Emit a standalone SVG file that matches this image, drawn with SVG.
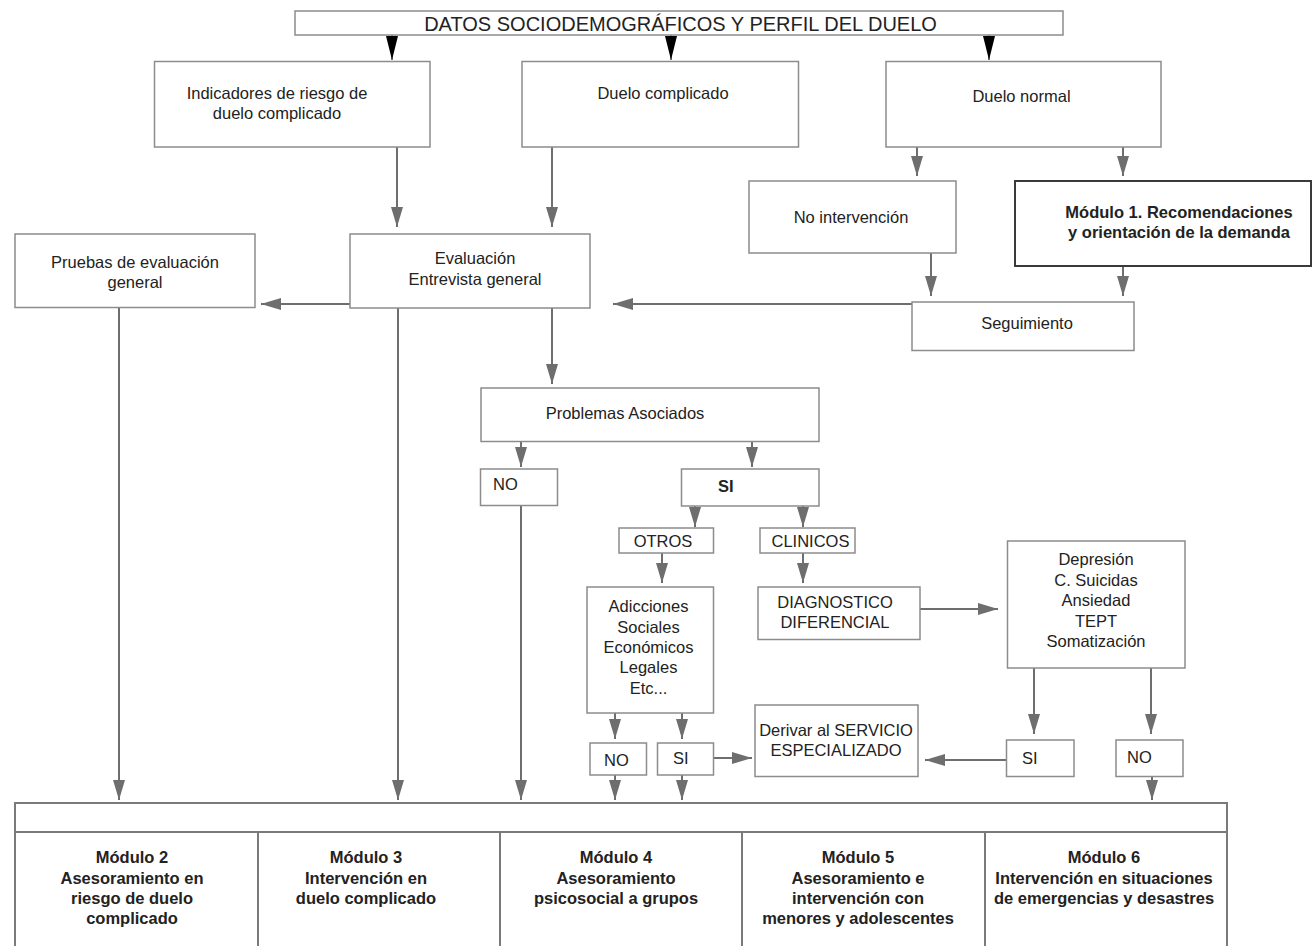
<svg xmlns="http://www.w3.org/2000/svg" width="1313" height="946" viewBox="0 0 1313 946">
<style>
.box{fill:#fff;stroke:#8c8c8c;stroke-width:1.5}
.strong{fill:#fff;stroke:#3a3a3a;stroke-width:2}
.t{font-family:"Liberation Sans",Arial,sans-serif;font-size:16.5px;fill:#222}
.b{font-weight:bold}
.c{text-anchor:middle}
.title{font-size:20px}
.conn line{stroke:#6e6e6e;stroke-width:2;marker-end:url(#ah)}
.conn line.k{stroke:#000;stroke-width:1;marker-end:url(#ak)}
.tbl{fill:none;stroke:#7a7a7a;stroke-width:2}
</style>
<defs>
<marker id="ah" markerUnits="userSpaceOnUse" markerWidth="21" markerHeight="12" refX="20" refY="6" orient="auto">
<path d="M0,0 L20,6 L0,12 z" fill="#6e6e6e"/>
</marker>
<marker id="ak" markerUnits="userSpaceOnUse" markerWidth="25" markerHeight="12" refX="24" refY="6" orient="auto">
<path d="M0,0 L24,6 L0,12 z" fill="#000"/>
</marker>
</defs>
<rect width="1313" height="946" fill="#fff"/>

<g id="connectors" class="conn">
<line class="k" x1="392" y1="35" x2="392" y2="60"/>
<line class="k" x1="671" y1="35" x2="671" y2="60"/>
<line class="k" x1="989" y1="35" x2="989" y2="60"/>
<line x1="397" y1="147" x2="397" y2="227"/>
<line x1="552" y1="147" x2="552" y2="227"/>
<line x1="917" y1="147" x2="917" y2="176"/>
<line x1="1123" y1="147" x2="1123" y2="176"/>
<line x1="931" y1="253" x2="931" y2="296"/>
<line x1="1123" y1="266" x2="1123" y2="296"/>
<line x1="912" y1="304" x2="613" y2="304"/>
<line x1="350" y1="304" x2="261" y2="304"/>
<line x1="119" y1="308" x2="119" y2="800"/>
<line x1="398" y1="308" x2="398" y2="800"/>
<line x1="552" y1="308" x2="552" y2="384"/>
<line x1="521" y1="442" x2="521" y2="467"/>
<line x1="752" y1="442" x2="752" y2="467"/>
<line x1="521" y1="506" x2="521" y2="800"/>
<line x1="695" y1="506" x2="695" y2="527"/>
<line x1="803" y1="506" x2="803" y2="527"/>
<line x1="662" y1="553" x2="662" y2="583"/>
<line x1="803" y1="553" x2="803" y2="583"/>
<line x1="920" y1="609" x2="998" y2="609"/>
<line x1="615" y1="713" x2="615" y2="739"/>
<line x1="682" y1="713" x2="682" y2="739"/>
<line x1="615" y1="775" x2="615" y2="800"/>
<line x1="682" y1="775" x2="682" y2="800"/>
<line x1="714" y1="758" x2="752" y2="758"/>
<line x1="1034" y1="668" x2="1034" y2="734"/>
<line x1="1151" y1="668" x2="1151" y2="734"/>
<line x1="1007" y1="760" x2="925" y2="760"/>
<line x1="1152" y1="777" x2="1152" y2="800"/>
</g>

<g id="datos">
<rect class="box" x="295" y="11" width="768" height="24"/>
<text class="t c title" x="680.5" y="31">DATOS SOCIODEMOGRÁFICOS Y PERFIL DEL DUELO</text>
</g>
<g id="indicadores">
<rect class="box" x="154.5" y="61.5" width="275.5" height="85.5"/>
<text class="t c" x="277" y="99">Indicadores de riesgo de</text>
<text class="t c" x="277" y="119">duelo complicado</text>
</g>
<g id="duelo-complicado">
<rect class="box" x="522" y="61.5" width="276.5" height="85.5"/>
<text class="t c" x="663" y="99">Duelo complicado</text>
</g>
<g id="duelo-normal">
<rect class="box" x="886" y="61.5" width="275" height="85.5"/>
<text class="t c" x="1021.5" y="102">Duelo normal</text>
</g>
<g id="no-intervencion">
<rect class="box" x="749" y="181" width="207" height="72"/>
<text class="t c" x="851" y="222.5">No intervención</text>
</g>
<g id="modulo1">
<rect class="strong" x="1015" y="181" width="296" height="85"/>
<text class="t c b" x="1179" y="217.5">Módulo 1. Recomendaciones</text>
<text class="t c b" x="1179" y="237.5">y orientación de la demanda</text>
</g>
<g id="seguimiento">
<rect class="box" x="912" y="302" width="222" height="48.5"/>
<text class="t c" x="1027" y="329">Seguimiento</text>
</g>
<g id="pruebas">
<rect class="box" x="15" y="234" width="240" height="73.5"/>
<text class="t c" x="135" y="267.5">Pruebas de evaluación</text>
<text class="t c" x="135" y="287.5">general</text>
</g>
<g id="evaluacion">
<rect class="box" x="350" y="234" width="240" height="74"/>
<text class="t c" x="475" y="264">Evaluación</text>
<text class="t c" x="475" y="285">Entrevista general</text>
</g>
<g id="problemas">
<rect class="box" x="481" y="388" width="338" height="53.5"/>
<text class="t c" x="625" y="418.5">Problemas Asociados</text>
</g>
<g id="no-problemas">
<rect class="box" x="480.5" y="469" width="77" height="36.5"/>
<text class="t" x="493" y="490">NO</text>
</g>
<g id="si-problemas">
<rect class="box" x="681.5" y="469" width="137.5" height="37"/>
<text class="t b" x="718" y="491.5">SI</text>
</g>
<g id="otros">
<rect class="box" x="619" y="528" width="94.5" height="25"/>
<text class="t c" x="663" y="547">OTROS</text>
</g>
<g id="clinicos">
<rect class="box" x="760" y="528" width="95" height="25"/>
<text class="t c" x="810.5" y="547">CLINICOS</text>
</g>
<g id="adicciones">
<rect class="box" x="587" y="587" width="126.5" height="126"/>
<text class="t c" x="648.5" y="612">Adicciones</text>
<text class="t c" x="648.5" y="632.5">Sociales</text>
<text class="t c" x="648.5" y="652.5">Económicos</text>
<text class="t c" x="648.5" y="673">Legales</text>
<text class="t c" x="648.5" y="694">Etc...</text>
</g>
<g id="diagnostico">
<rect class="box" x="758" y="587" width="162" height="52.5"/>
<text class="t c" x="835" y="607.5">DIAGNOSTICO</text>
<text class="t c" x="835" y="627.5">DIFERENCIAL</text>
</g>
<g id="clinicos-lista">
<rect class="box" x="1007.5" y="541" width="177.5" height="127"/>
<text class="t c" x="1096" y="565">Depresión</text>
<text class="t c" x="1096" y="586">C. Suicidas</text>
<text class="t c" x="1096" y="606">Ansiedad</text>
<text class="t c" x="1096" y="626.5">TEPT</text>
<text class="t c" x="1096" y="646.5">Somatización</text>
</g>
<g id="no-otros">
<rect class="box" x="590" y="743" width="56.5" height="32"/>
<text class="t" x="604" y="766">NO</text>
</g>
<g id="si-otros">
<rect class="box" x="657.5" y="743" width="56" height="32"/>
<text class="t" x="673" y="764">SI</text>
</g>
<g id="derivar">
<rect class="box" x="755" y="705" width="163" height="71.5"/>
<text class="t c" x="836" y="736">Derivar al SERVICIO</text>
<text class="t c" x="836" y="756">ESPECIALIZADO</text>
</g>
<g id="si-clinicos">
<rect class="box" x="1006.5" y="740" width="67.5" height="36.5"/>
<text class="t" x="1022" y="764">SI</text>
</g>
<g id="no-clinicos">
<rect class="box" x="1116" y="740" width="67" height="36.5"/>
<text class="t" x="1127" y="762.5">NO</text>
</g>

<g id="modulos">
<rect x="15" y="803" width="1212" height="160" fill="#fff"/>
<path class="tbl" d="M15,960 L15,803 L1227,803 L1227,960 M15,832 L1227,832 M258,832 L258,960 M500,832 L500,960 M742,832 L742,960 M985,832 L985,960"/>
<g id="modulo2">
<text class="t c b" x="132" y="863">Módulo 2</text>
<text class="t c b" x="132" y="884">Asesoramiento en</text>
<text class="t c b" x="132" y="904">riesgo de duelo</text>
<text class="t c b" x="132" y="924">complicado</text>
</g>
<g id="modulo3">
<text class="t c b" x="366" y="863">Módulo 3</text>
<text class="t c b" x="366" y="884">Intervención en</text>
<text class="t c b" x="366" y="904">duelo complicado</text>
</g>
<g id="modulo4">
<text class="t c b" x="616" y="863">Módulo 4</text>
<text class="t c b" x="616" y="884">Asesoramiento</text>
<text class="t c b" x="616" y="904">psicosocial a grupos</text>
</g>
<g id="modulo5">
<text class="t c b" x="858" y="863">Módulo 5</text>
<text class="t c b" x="858" y="884">Asesoramiento e</text>
<text class="t c b" x="858" y="904">intervención con</text>
<text class="t c b" x="858" y="924">menores y adolescentes</text>
</g>
<g id="modulo6">
<text class="t c b" x="1104" y="863">Módulo 6</text>
<text class="t c b" x="1104" y="884">Intervención en situaciones</text>
<text class="t c b" x="1104" y="904">de emergencias y desastres</text>
</g>
</g>
</svg>
